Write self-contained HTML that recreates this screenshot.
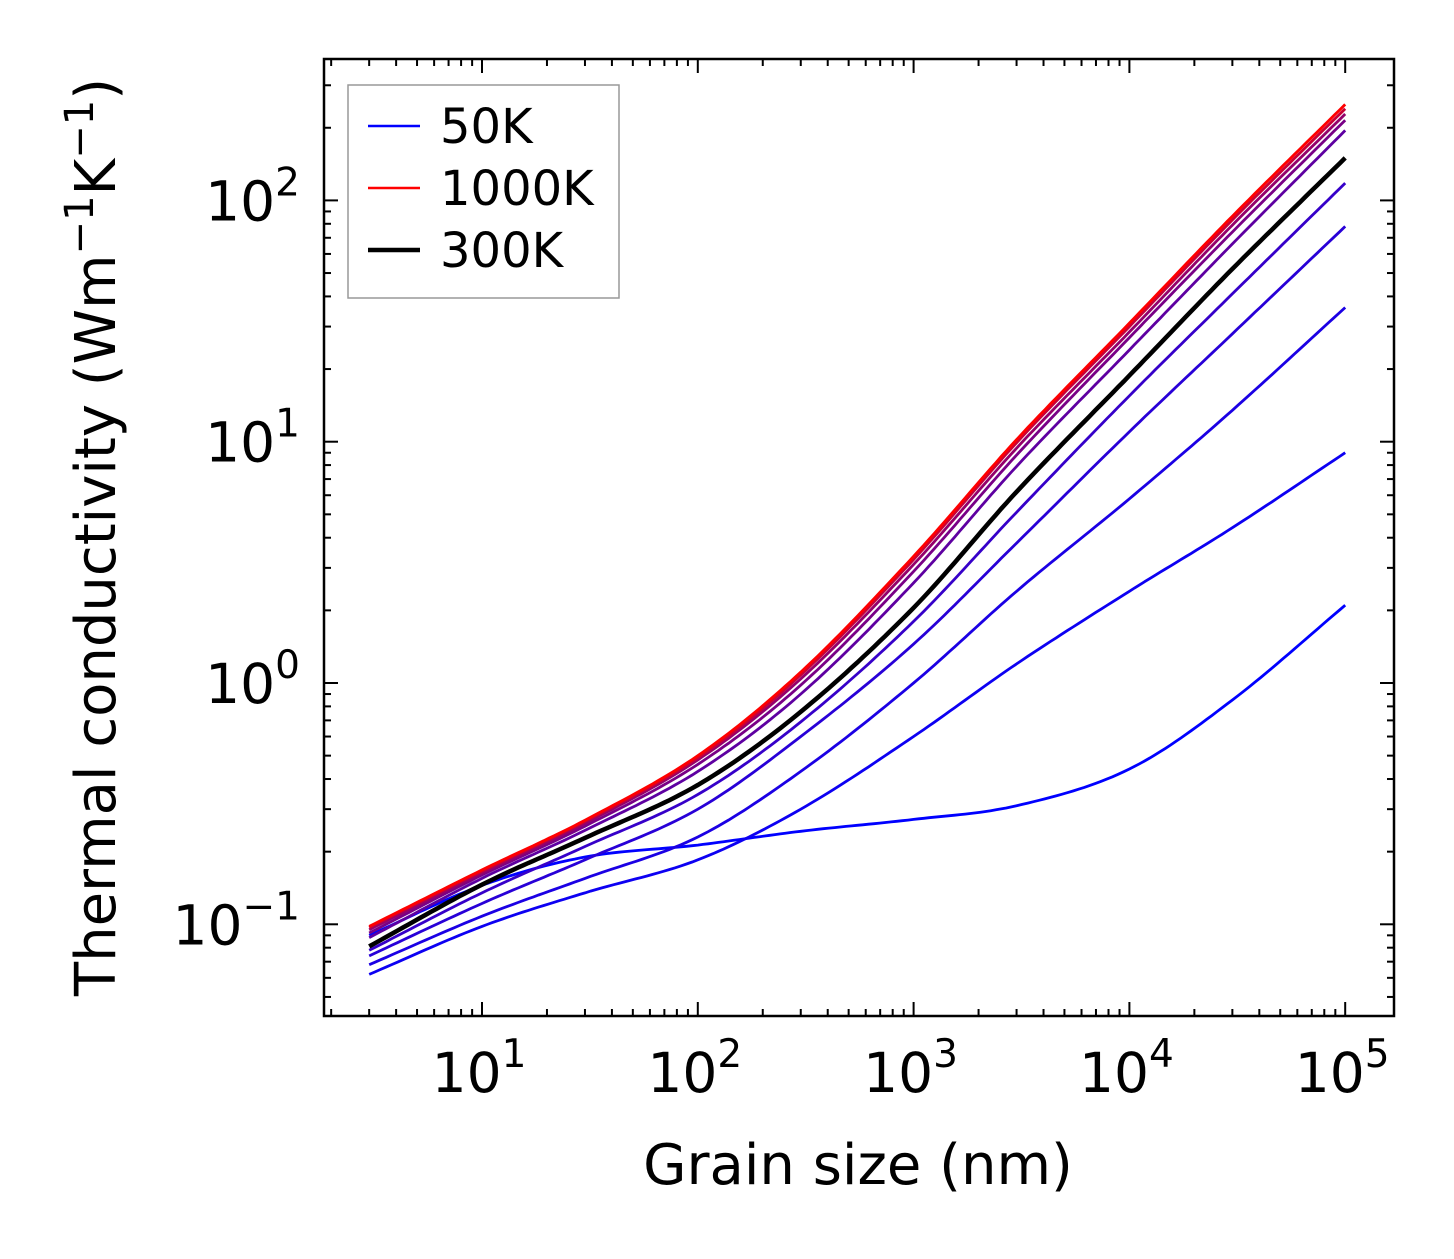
<!DOCTYPE html>
<html><head><meta charset="utf-8"><style>
body{margin:0;background:#fff;}
svg text{font-family:"DejaVu Sans","Liberation Sans",sans-serif;fill:#000;}
</style></head><body>
<svg id="chart" width="1454" height="1254" viewBox="0 0 1454 1254" xmlns="http://www.w3.org/2000/svg">
<rect x="0" y="0" width="1454" height="1254" fill="#fff"/>
<g id="curves"></g>
<g id="ticks"></g>
<rect x="324" y="59" width="1070" height="957" fill="none" stroke="#000" stroke-width="2.5"/>
<g id="labels"></g>
<text x="858" y="1184" font-size="56" text-anchor="middle">Grain size (nm)</text>
<text transform="translate(115,537) rotate(-90)" font-size="56" text-anchor="middle">Thermal conductivity (Wm<tspan dy="-22" font-size="40">−1</tspan><tspan dy="22">K</tspan><tspan dy="-22" font-size="40">−1</tspan><tspan dy="22">)</tspan></text>
<g>
<rect x="348" y="85" width="271" height="213" fill="#fff" stroke="#999" stroke-width="1.5"/>
<line x1="368" y1="126" x2="420" y2="126" stroke="rgb(0,0,255)" stroke-width="2.5"/>
<text x="440" y="143" font-size="48">50K</text>
<line x1="368" y1="188" x2="420" y2="188" stroke="rgb(255,0,0)" stroke-width="2.5"/>
<text x="440" y="205" font-size="48">1000K</text>
<line x1="368" y1="250" x2="420" y2="250" stroke="#000" stroke-width="4.5"/>
<text x="440" y="267" font-size="48">300K</text>
</g>
</svg>
<script>
const grainSizes=[3,10,30,100,300,1000,3000,1e4,3e4,1e5];
const temps=[50,100,150,200,250,400,500,600,800,1000];
const k50=[0.09,0.145,0.19,0.213,0.243,0.272,0.31,0.44,0.85,2.1];
const k100=[0.062,0.098,0.135,0.185,0.3,0.6,1.2,2.4,4.4,9];
const k150=[0.068,0.108,0.155,0.23,0.43,1.0,2.4,5.8,13.5,36];
const k200=[0.074,0.122,0.185,0.3,0.6,1.45,3.8,11,28,78];
const k250=[0.078,0.135,0.21,0.345,0.69,1.8,5.1,15.5,41,118];
const k400=[0.088,0.155,0.245,0.43,0.9,2.6,7.9,24,66,195];
const k500=[0.092,0.16,0.255,0.46,0.98,2.9,8.8,27,74,215];
const k600=[0.095,0.163,0.262,0.48,1.04,3.1,9.4,28.5,79,228];
const k800=[0.097,0.166,0.267,0.49,1.08,3.25,9.9,30,83,240];
const k1000=[0.098,0.168,0.27,0.5,1.11,3.35,10.2,31,86,250];
const k300=[0.081,0.146,0.228,0.378,0.76,2.05,6.2,18.8,52,150];
const series=[k50,k100,k150,k200,k250,k400,k500,k600,k800,k1000];
const xTickLabels=["1","2","3","4","5"];
const yTickLabels=["−1","0","1","2"];

const X0=482,XD=215.8,Y0=683,YD=241.3;
const xs=v=>X0+(Math.log10(v)-1)*XD;
const ys=v=>Y0-Math.log10(v)*YD;
const NS="http://www.w3.org/2000/svg";
function mk(t,a){const e=document.createElementNS(NS,t);for(const k in a)e.setAttribute(k,a[k]);return e;}
function pathFor(vals){
  const L=grainSizes.map(Math.log10),V=vals.map(Math.log10);
  let pts=[];
  for(let i=0;i<L.length-1;i++){
    const p0=V[Math.max(i-1,0)],p1=V[i],p2=V[i+1],p3=V[Math.min(i+2,V.length-1)];
    const l0=L[Math.max(i-1,0)],l1=L[i],l2=L[i+1],l3=L[Math.min(i+2,L.length-1)];
    const m1=(p2-p0)/((l2-l0)||1),m2=(p3-p1)/((l3-l1)||1);
    const h=l2-l1;
    for(let s=0;s<20;s++){const t=s/20;
      const h00=2*t*t*t-3*t*t+1,h10=t*t*t-2*t*t+t,h01=-2*t*t*t+3*t*t,h11=t*t*t-t*t;
      const v=h00*p1+h10*h*m1+h01*p2+h11*h*m2;
      pts.push([xs(Math.pow(10,l1+t*h)),ys(Math.pow(10,v))]);}
  }
  pts.push([xs(grainSizes[grainSizes.length-1]),ys(vals[vals.length-1])]);
  return "M"+pts.map(p=>p[0].toFixed(1)+","+p[1].toFixed(1)).join("L");
}
const cg=document.getElementById('curves');
series.forEach((vals,i)=>{
  const t=(temps[i]-50)/950;
  const p=mk('path',{d:pathFor(vals),fill:'none',stroke:`rgb(${Math.round(255*t)},0,${Math.round(255*(1-t))})`,'stroke-width':2.8});
  
  
  cg.appendChild(p);
});
const bp=mk('path',{d:pathFor(k300),fill:'none',stroke:'#000','stroke-width':4.5});


cg.appendChild(bp);

const tg=document.getElementById('ticks');
const XL=324,XR=1394,YT=59,YB=1016;
for(let e=0;e<=5;e++)for(let m=1;m<10;m++){
  const v=m*Math.pow(10,e),x=xs(v);if(x<XL+1||x>XR-1)continue;
  const len=m===1?14:7;
  tg.appendChild(mk('line',{x1:x,y1:YB,x2:x,y2:YB-len,stroke:'#000','stroke-width':2}));
  tg.appendChild(mk('line',{x1:x,y1:YT,x2:x,y2:YT+len,stroke:'#000','stroke-width':2}));
}
for(let e=-2;e<=2;e++)for(let m=1;m<10;m++){
  const v=m*Math.pow(10,e),y=ys(v);if(y<YT+1||y>YB-1)continue;
  const len=m===1?14:7;
  tg.appendChild(mk('line',{x1:XL,y1:y,x2:XL+len,y2:y,stroke:'#000','stroke-width':2}));
  tg.appendChild(mk('line',{x1:XR,y1:y,x2:XR-len,y2:y,stroke:'#000','stroke-width':2}));
}
const lg=document.getElementById('labels');
xTickLabels.forEach(s=>{
  const x=xs(Math.pow(10,+s));
  const t=mk('text',{x:x-3,y:1092,'font-size':55,'text-anchor':'middle'});
  t.innerHTML='10<tspan dy="-25" font-size="39">'+s+'</tspan>';
  
  
  lg.appendChild(t);
});
yTickLabels.forEach(s=>{
  const y=ys(Math.pow(10,+s.replace('−','-')));
  const t=mk('text',{x:300,y:y+20,'font-size':55,'text-anchor':'end'});
  t.innerHTML='10<tspan dy="-25" font-size="39">'+s+'</tspan>';
  
  
  lg.appendChild(t);
});
</script>
</body></html>
